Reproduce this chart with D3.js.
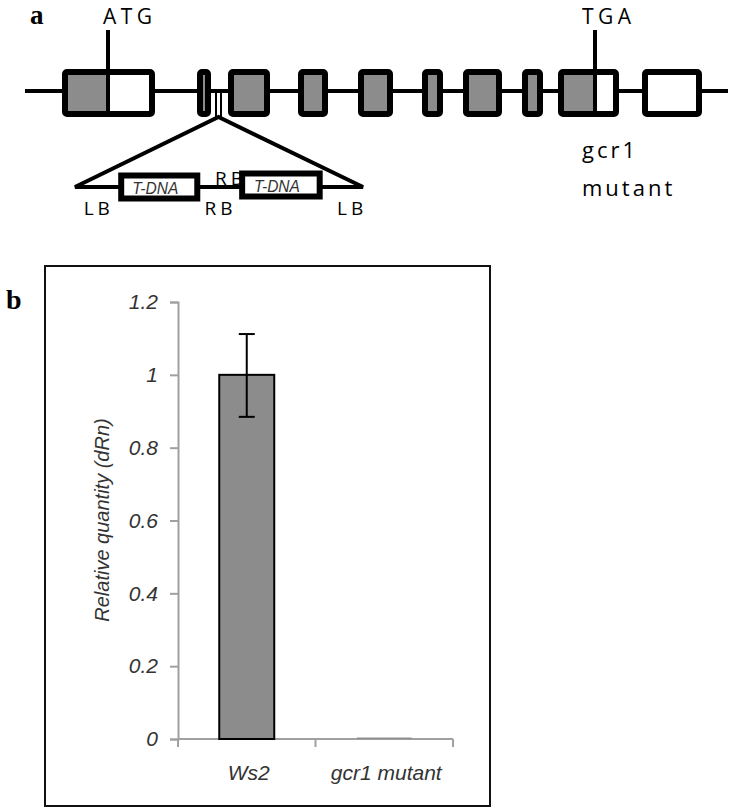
<!DOCTYPE html>
<html>
<head>
<meta charset="utf-8">
<script src="https://cdn.jsdelivr.net/npm/d3@7"></script>
<style>
  body { margin: 0; background: #fff; }
  svg { display: block; }
</style>
</head>
<body>
<svg id="fig" width="733" height="811"></svg>
<script>
// ---- panel a: gene model (positions in bp along the schematic) ----
const geneLength = 3515;
const exonStart   = [185, 860, 1015, 1365, 1665, 1985, 2190, 2485, 2665, 3085];
const exonEnd     = [650, 930, 1225, 1515, 1840, 2090, 2385, 2590, 2970, 3385];
const exonGrayEnd = [415, 930, 1225, 1515, 1840, 2090, 2385, 2590, 2850, 3085];
const markerLabels = ["ATG", "TGA"];
const markerPos    = [415, 2850];
const insertSite   = [955, 980];

// zoomed insert (0-100 units)
const tdnaLabels = ["T-DNA", "T-DNA"];
const tdnaStart  = [15, 57];
const tdnaEnd    = [43.5, 86];
const borderText = ["LB", "RB", "RB", "LB"];
const borderPos  = [3, 45, 48.6, 91];
const borderSide = ["below", "below", "above", "below"];

// ---- panel b: qPCR ----
const genotypes = ["Ws2", "gcr1 mutant"];
const quantity  = [1, 0.004];
const errorBar  = [0.112, 0];
const yTicks    = [0, 0.2, 0.4, 0.6, 0.8, 1, 1.2];

const svg = d3.select("#fig");
const gray = "#8c8c8c";

function panelA() {
	const x = d3.scaleLinear().domain([0, geneLength]).range([25, 728]);
	const g = svg.append("g");
	const lineY = 91, exTop = 69, exBot = 117, sw = 6;

	g.append("text").attr("x", 30).attr("y", 24)
		.style("font", "bold 27px 'Liberation Serif', serif").text("a");

	// backbone
	g.append("line").attr("x1", x(0)).attr("x2", x(geneLength))
		.attr("y1", lineY).attr("y2", lineY)
		.attr("stroke", "#000").attr("stroke-width", 4);

	const exons = exonStart.map((s, i) => ({s: s, e: exonEnd[i], gEnd: exonGrayEnd[i]}));
	const ex = g.selectAll(".exon").data(exons).join("g").attr("class", "exon");
	ex.append("rect")
		.attr("x", d => x(d.s) + sw / 2).attr("y", exTop + sw / 2)
		.attr("width", d => x(d.e) - x(d.s) - sw).attr("height", exBot - exTop - sw)
		.attr("fill", "#fff");
	ex.filter(d => d.gEnd > d.s).append("rect")
		.attr("x", d => x(d.s) + sw / 2).attr("y", exTop + sw / 2)
		.attr("width", d => Math.max(0, Math.min(x(d.gEnd), x(d.e) - sw / 2) - x(d.s) - sw / 2))
		.attr("height", exBot - exTop - sw)
		.attr("fill", gray);
	ex.append("rect")
		.attr("x", d => x(d.s) + sw / 2).attr("y", exTop + sw / 2)
		.attr("width", d => x(d.e) - x(d.s) - sw).attr("height", exBot - exTop - sw)
		.attr("rx", 2)
		.attr("fill", "none").attr("stroke", "#000").attr("stroke-width", sw);

	// start / stop markers
	markerPos.forEach((p, i) => {
		g.append("line").attr("x1", x(p)).attr("x2", x(p))
			.attr("y1", 30).attr("y2", exBot - 2)
			.attr("stroke", "#000").attr("stroke-width", 4);
		g.append("text").attr("x", x(p) + (i === 0 ? -5 : -13)).attr("y", 24)
			.style("font", "21px 'Open Sans', sans-serif")
			.attr("letter-spacing", 4.5).text(markerLabels[i]);
	});

	// mutant label
	const lab = g.append("text").style("font", "22px 'Open Sans', sans-serif")
		.attr("letter-spacing", 3);
	lab.append("tspan").attr("x", 582).attr("y", 158).text("gcr1");
	lab.append("tspan").attr("x", 582).attr("y", 196).text("mutant");

	// insertion site ticks
	insertSite.forEach(p => {
		g.append("line").attr("x1", x(p)).attr("x2", x(p))
			.attr("y1", lineY).attr("y2", exBot)
			.attr("stroke", "#000").attr("stroke-width", 2);
	});

	// zoomed T-DNA insert
	const xi = d3.scaleLinear().domain([0, 100]).range([75, 363]);
	const baseY = 187, apexX = x(d3.mean(insertSite));
	g.append("path")
		.attr("d", `M${xi(0)},${baseY} L${apexX},${exBot} L${xi(100)},${baseY} Z`)
		.attr("fill", "none").attr("stroke", "#000").attr("stroke-width", 4)
		.attr("stroke-linejoin", "miter");

	const boxH = 29;
	tdnaStart.forEach((s, i) => {
		const cy = baseY - i * 2;
		g.append("rect")
			.attr("x", xi(s) + 3).attr("y", cy - boxH / 2 + 3)
			.attr("width", xi(tdnaEnd[i]) - xi(s) - 6).attr("height", boxH - 6)
			.attr("fill", "#fff").attr("stroke", "#000").attr("stroke-width", 6);
		g.append("text")
			.attr("x", (xi(s) + xi(tdnaEnd[i])) / 2 - 4).attr("y", cy + 7)
			.attr("text-anchor", "middle")
			.attr("textLength", 46).attr("lengthAdjust", "spacingAndGlyphs")
			.style("font", "italic 16px 'Liberation Sans', sans-serif")
			.attr("fill", "#333").text(tdnaLabels[i]);
	});

	borderText.forEach((t, i) => {
		g.append("text")
			.attr("x", xi(borderPos[i]))
			.attr("y", borderSide[i] === "below" ? 215 : 185)
			.style("font", "19px 'Open Sans', sans-serif")
			.attr("letter-spacing", 4).text(t);
	});
}

function panelB() {
	const g = svg.append("g");
	g.append("rect").attr("x", 45).attr("y", 266).attr("width", 445).attr("height", 540)
		.attr("fill", "none").attr("stroke", "#111").attr("stroke-width", 2);
	g.append("text").attr("x", 6).attr("y", 309)
		.style("font", "bold 28px 'Liberation Serif', serif").text("b");

	const y = d3.scaleLinear().domain([0, 1.2]).range([739, 302]);
	const x = d3.scaleBand().domain(genotypes).range([178, 453])
		.paddingInner(0.6).paddingOuter(0.3);
	const axisCol = "#a0a0a0";
	const labFont = "italic 21px 'Liberation Sans', sans-serif";

	const ya = g.append("g").attr("transform", "translate(178,0)")
		.call(d3.axisLeft(y).tickValues(yTicks).tickSize(8).tickPadding(12)
			.tickFormat(d => String(+d.toFixed(1))));
	ya.select(".domain").attr("stroke", axisCol).attr("stroke-width", 2);
	ya.selectAll(".tick line").attr("stroke", axisCol).attr("stroke-width", 2);
	ya.selectAll(".tick text").style("font", labFont).attr("fill", "#333");

	// x axis with ticks at category boundaries
	const step = x.step();
	const bounds = d3.range(genotypes.length + 1).map(i => x.range()[0] + i * step);
	g.append("line").attr("x1", 178).attr("x2", 453).attr("y1", y(0)).attr("y2", y(0))
		.attr("stroke", axisCol).attr("stroke-width", 2);
	g.selectAll(".xtick").data(bounds).join("line")
		.attr("x1", d => d).attr("x2", d => d)
		.attr("y1", y(0)).attr("y2", y(0) + 8)
		.attr("stroke", axisCol).attr("stroke-width", 2);
	g.selectAll(".xlab").data(genotypes).join("text")
		.attr("x", d => x(d) + x.bandwidth() / 2 + 2).attr("y", 780)
		.attr("text-anchor", "middle")
		.style("font", labFont).attr("fill", "#333").text(d => d);

	// bars
	g.selectAll(".bar").data(genotypes).join("rect")
		.attr("x", d => x(d)).attr("width", x.bandwidth())
		.attr("y", (d, i) => y(quantity[i]))
		.attr("height", (d, i) => y(0) - y(quantity[i]))
		.attr("fill", gray)
		.attr("stroke", (d, i) => i === 0 ? "#000" : "none")
		.attr("stroke-width", 2);

	// error bars
	genotypes.forEach((d, i) => {
		if (!errorBar[i]) return;
		const cx = x(d) + x.bandwidth() / 2;
		const hi = y(quantity[i] + errorBar[i]), lo = y(quantity[i] - errorBar[i] * 1.03);
		g.append("line").attr("x1", cx).attr("x2", cx).attr("y1", hi).attr("y2", lo)
			.attr("stroke", "#000").attr("stroke-width", 2);
		[hi, lo].forEach(v => g.append("line")
			.attr("x1", cx - 8).attr("x2", cx + 8).attr("y1", v).attr("y2", v)
			.attr("stroke", "#000").attr("stroke-width", 2));
	});

	g.append("text")
		.attr("transform", "translate(109,520) rotate(-90)")
		.attr("text-anchor", "middle")
		.style("font", "italic 20px 'Liberation Sans', sans-serif")
		.attr("fill", "#333").text("Relative quantity (dRn)");
}

panelA();
panelB();
</script>
</body>
</html>
